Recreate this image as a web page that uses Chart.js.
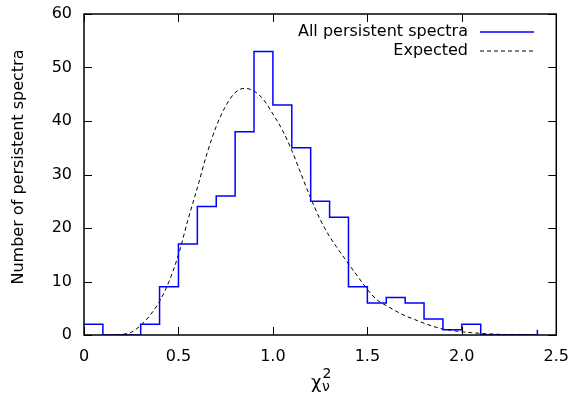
<!DOCTYPE html>
<html>
<head>
<meta charset="utf-8">
<script src="https://cdn.jsdelivr.net/npm/chart.js@4/dist/chart.umd.min.js"></script>
<style>
  html, body { margin: 0; padding: 0; background: #fff; }
  #wrap { width: 573px; height: 396px; }
</style>
</head>
<body>
<div id="wrap"><canvas id="c" width="573" height="396"></canvas></div>
<script>
// Histogram bins (left edges) and counts
const binStarts = [0.0,0.1,0.2,0.3,0.4,0.5,0.6,0.7,0.8,0.9,1.0,1.1,1.2,1.3,1.4,1.5,1.6,1.7,1.8,1.9,2.0,2.1,2.2,2.3,2.4];
const counts    = [2,  0,  0,  2,  9,  17, 24, 26, 38, 53, 43, 35, 25, 22, 9,  6,  7,  6,  3,  1,  2,  0,  0,  0,  1];

// Expected curve
const curveX = [0.17,0.2,0.25,0.3,0.35,0.4,0.45,0.5,0.55,0.6,0.65,0.7,0.75,0.8,0.85,0.9,0.95,1.0,1.05,1.1,1.15,1.2,1.25,1.3,1.35,1.4,1.45,1.5,1.55,1.6,1.65,1.7,1.75,1.8,1.85,1.9,1.95,2.0,2.05,2.1,2.15,2.2,2.3,2.4];
const curveY = [0,0.1,0.5,1.8,3.7,6.3,10,15,21.5,27.5,33.8,39,42.8,45.3,46.1,45.6,44,41.3,38.3,34.5,30,25.6,21.6,18.4,15.8,13.3,10.9,8.5,6.6,5.5,4.5,3.6,2.9,2.2,1.6,1.1,0.85,0.6,0.45,0.3,0.2,0.12,0.05,0.02];

const seriesNames = ["All persistent spectra", "Expected"];
const yTitle = "Number of persistent spectra";
const xTickValues = [0, 0.5, 1, 1.5, 2, 2.5];
const yTickValues = [0, 10, 20, 30, 40, 50, 60];

const FONT = "'DejaVu Sans', sans-serif";
const BLUE = "#0000ff";

const framePlugin = {
  id: 'frame',
  afterDatasetsDraw(chart) {
    const {ctx, chartArea: a, scales} = chart;
    ctx.save();
    // ticks inward, mirrored
    ctx.strokeStyle = '#000';
    ctx.lineWidth = 1;
    const tl = 8;
    scales.x.ticks.forEach(t => {
      const px = Math.round(scales.x.getPixelForValue(t.value)) + 0.5;
      ctx.beginPath();
      ctx.moveTo(px, a.bottom); ctx.lineTo(px, a.bottom - tl);
      ctx.moveTo(px, a.top); ctx.lineTo(px, a.top + tl);
      ctx.stroke();
    });
    scales.y.ticks.forEach(t => {
      const py = Math.round(scales.y.getPixelForValue(t.value)) + 0.5;
      ctx.beginPath();
      ctx.moveTo(a.left, py); ctx.lineTo(a.left + tl, py);
      ctx.moveTo(a.right, py); ctx.lineTo(a.right - tl, py);
      ctx.stroke();
    });
    // border
    ctx.lineWidth = 1.5;
    ctx.strokeRect(a.left, a.top, a.right - a.left, a.bottom - a.top);

    // legend (text right-aligned, sample on the right)
    ctx.font = "16px " + FONT;
    ctx.textAlign = 'right';
    ctx.textBaseline = 'alphabetic';
    const tx = 468, sx0 = 480, sx1 = 534;
    const rows = [
      {text: seriesNames[0], base: 36, ly: 32, color: BLUE, dash: [], lw: 1.5},
      {text: seriesNames[1], base: 55, ly: 51, color: '#000', dash: [4, 3], lw: 1}
    ];
    rows.forEach(r => {
      ctx.fillStyle = '#000';
      ctx.fillText(r.text, tx, r.base);
      ctx.setLineDash(r.dash);
      ctx.strokeStyle = r.color;
      ctx.lineWidth = r.lw;
      ctx.beginPath();
      ctx.moveTo(sx0, r.ly); ctx.lineTo(sx1, r.ly);
      ctx.stroke();
    });
    ctx.setLineDash([]);

    // y axis title (rotated)
    ctx.save();
    ctx.translate(19, 167);
    ctx.rotate(-Math.PI / 2);
    ctx.textAlign = 'center';
    ctx.textBaseline = 'middle';
    ctx.font = "16px " + FONT;
    ctx.fillStyle = '#000';
    ctx.fillText(yTitle, 0, 0);
    ctx.restore();

    // x axis title: chi with stacked sup 2 and sub nu
    ctx.textAlign = 'left';
    ctx.textBaseline = 'alphabetic';
    ctx.fillStyle = '#000';
    ctx.font = "18px " + FONT;
    ctx.fillText("\u03C7", 311, 388);
    ctx.font = "14px " + FONT;
    ctx.fillText("2", 322.5, 378);
    ctx.fillText("\u03BD", 322, 391);
    ctx.restore();
  }
};

const histData = binStarts.map((x, i) => ({x: x, y: counts[i]}));
const curveData = curveX.map((x, i) => ({x: x, y: curveY[i]}));

new Chart(document.getElementById('c'), {
  type: 'line',
  data: {
    datasets: [
      {
        label: seriesNames[0],
        data: histData,
        stepped: true,
        borderColor: BLUE,
        borderWidth: 1.5,
        pointRadius: 0,
        fill: false
      },
      {
        label: seriesNames[1],
        data: curveData,
        borderColor: '#000',
        borderWidth: 1,
        borderDash: [4, 3],
        cubicInterpolationMode: 'monotone',
        pointRadius: 0,
        fill: false
      }
    ]
  },
  options: {
    responsive: false,
    animation: false,
    devicePixelRatio: 1,
    layout: { padding: { left: 0, right: 16, top: 14, bottom: 0 } },
    plugins: { legend: { display: false }, tooltip: { enabled: false } },
    scales: {
      x: {
        type: 'linear',
        min: 0, max: 2.5,
        afterFit: s => { s.height = 61; },
        afterBuildTicks: s => { s.ticks = xTickValues.map(v => ({value: v})); },
        grid: { display: false },
        border: { display: false },
        ticks: { color: '#000', font: { family: FONT, size: 16 }, padding: 4, maxRotation: 0, autoSkip: false },
        title: { display: false }
      },
      y: {
        type: 'linear',
        min: 0, max: 60,
        afterFit: s => { s.width = 84; },
        afterBuildTicks: s => { s.ticks = yTickValues.map(v => ({value: v})); },
        grid: { display: false },
        border: { display: false },
        ticks: { color: '#000', font: { family: FONT, size: 16 }, padding: 4 },
        title: { display: false }
      }
    }
  },
  plugins: [framePlugin]
});
</script>
</body>
</html>
